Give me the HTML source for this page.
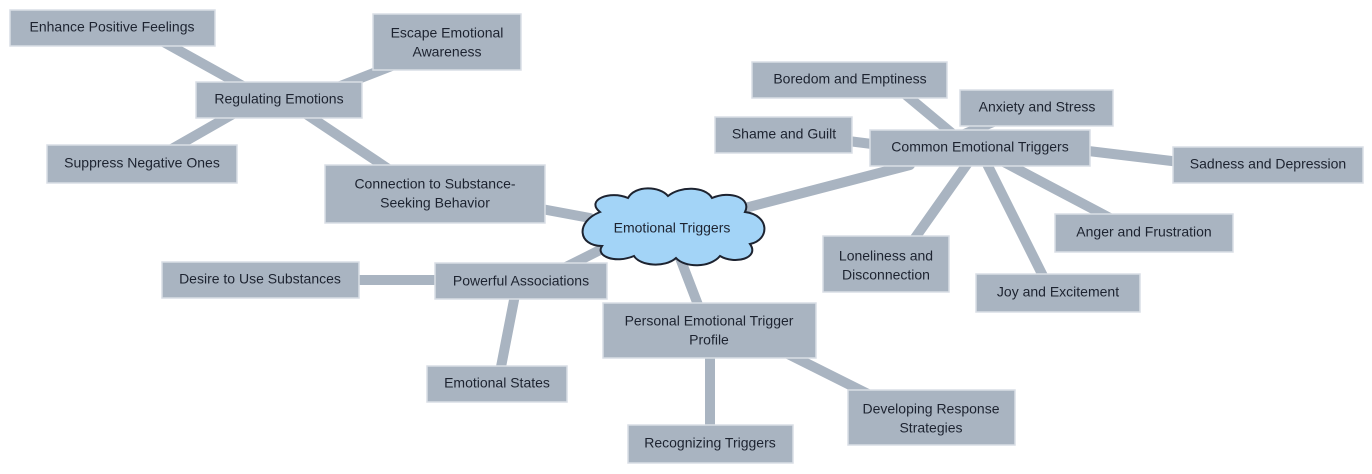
<!DOCTYPE html>
<html><head><meta charset="utf-8"><style>
html,body{margin:0;padding:0;background:#fff;}
svg{display:block}
text{font-family:"Comic Sans MS","Liberation Sans",sans-serif;font-size:14px;fill:#1d2330;text-anchor:middle;dominant-baseline:middle}
.b{fill:#a9b4c1;stroke:#d9dee5;stroke-width:1.5}
</style></head><body>
<svg width="1372" height="474" viewBox="0 0 1372 474" xmlns="http://www.w3.org/2000/svg">
<g stroke="#a9b4c1" stroke-width="10" stroke-linecap="round" fill="none">
<line x1="745" y1="208" x2="910" y2="165"/>
<line x1="590" y1="218" x2="520" y2="205"/>
<line x1="600" y1="250" x2="560" y2="270"/>
<line x1="680" y1="258" x2="700" y2="310"/>
<line x1="250" y1="90" x2="160" y2="40"/>
<line x1="330" y1="90" x2="420" y2="55"/>
<line x1="240" y1="110" x2="170" y2="150"/>
<line x1="300" y1="110" x2="390" y2="170"/>
<line x1="960" y1="140" x2="900" y2="90"/>
<line x1="950" y1="140" x2="1010" y2="115"/>
<line x1="880" y1="145" x2="840" y2="140"/>
<line x1="1080" y1="150" x2="1180" y2="162"/>
<line x1="1000" y1="160" x2="1110" y2="218"/>
<line x1="985" y1="160" x2="1045" y2="280"/>
<line x1="970" y1="160" x2="910" y2="245"/>
<line x1="440" y1="280" x2="350" y2="280"/>
<line x1="515" y1="295" x2="500" y2="372"/>
<line x1="710" y1="355" x2="710" y2="428"/>
<line x1="780" y1="350" x2="880" y2="400"/>
</g>
<g class="b">
<rect class="b" x="10" y="10" width="205" height="36"/>
<rect class="b" x="373" y="14" width="148" height="56"/>
<rect class="b" x="196" y="82" width="166" height="36"/>
<rect class="b" x="47" y="145" width="190" height="38"/>
<rect class="b" x="325" y="165" width="220" height="58"/>
<rect class="b" x="752" y="62" width="195" height="36"/>
<rect class="b" x="960" y="90" width="153" height="36"/>
<rect class="b" x="715" y="117" width="137" height="36"/>
<rect class="b" x="870" y="130" width="220" height="36"/>
<rect class="b" x="1173" y="147" width="190" height="36"/>
<rect class="b" x="1055" y="214" width="178" height="38"/>
<rect class="b" x="823" y="236" width="126" height="56"/>
<rect class="b" x="976" y="274" width="164" height="38"/>
<rect class="b" x="162" y="262" width="197" height="36"/>
<rect class="b" x="435" y="263" width="172" height="36"/>
<rect class="b" x="603" y="303" width="213" height="55"/>
<rect class="b" x="427" y="366" width="140" height="36"/>
<rect class="b" x="848" y="390" width="167" height="55"/>
<rect class="b" x="628" y="425" width="165" height="38"/>
</g>
<path d="M600,212 C585,200 610,190 628,198 C635,185 660,186 668,196 C680,186 705,186 712,198 C730,190 752,198 745,212 C770,215 770,240 750,244 C760,258 735,265 720,256 C710,268 685,268 676,258 C665,268 640,266 634,256 C615,264 595,256 602,246 C578,246 575,222 600,212 Z" fill="#a3d4f7" stroke="#1d2330" stroke-width="2"/>
<text x="672" y="229">Emotional Triggers</text>
<text x="112" y="28">Enhance Positive Feelings</text>
<text x="447" y="34">Escape Emotional</text><text x="447" y="53">Awareness</text>
<text x="279" y="100">Regulating Emotions</text>
<text x="142" y="164">Suppress Negative Ones</text>
<text x="435" y="185">Connection to Substance-</text><text x="435" y="204">Seeking Behavior</text>
<text x="850" y="80">Boredom and Emptiness</text>
<text x="1037" y="108">Anxiety and Stress</text>
<text x="784" y="135">Shame and Guilt</text>
<text x="980" y="148">Common Emotional Triggers</text>
<text x="1268" y="165">Sadness and Depression</text>
<text x="1144" y="233">Anger and Frustration</text>
<text x="886" y="257">Loneliness and</text><text x="886" y="276">Disconnection</text>
<text x="1058" y="293">Joy and Excitement</text>
<text x="260" y="280">Desire to Use Substances</text>
<text x="521" y="282">Powerful Associations</text>
<text x="709" y="322">Personal Emotional Trigger</text><text x="709" y="341">Profile</text>
<text x="497" y="384">Emotional States</text>
<text x="931" y="410">Developing Response</text><text x="931" y="429">Strategies</text>
<text x="710" y="444">Recognizing Triggers</text>
</svg>
</body></html>
